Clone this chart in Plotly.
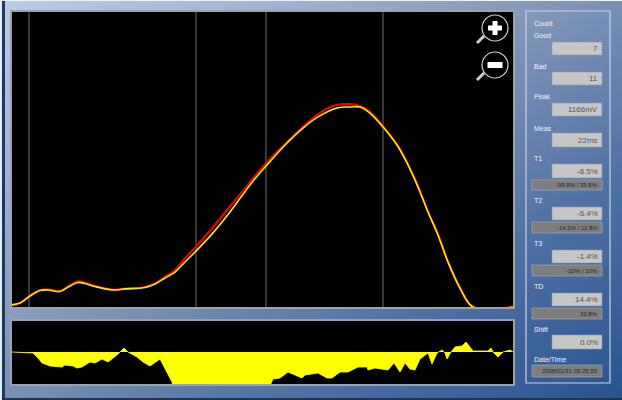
import base64
import plotly.graph_objects as go

# Main trace data: sample index / mV
red_t = [0, 8, 18, 28, 36, 48, 58, 66, 73, 83, 101, 113, 133, 143, 153, 163, 173, 183, 201, 225, 255, 275, 305, 321, 338, 348, 358, 371, 385, 395, 406, 416, 426, 436, 448, 461, 501]
red_mv = [12, 23, 66, 98, 102, 93, 127, 147, 141, 122, 100, 106, 115, 136, 175, 213, 280, 340, 460, 627, 834, 949, 1104, 1156, 1167, 1156, 1122, 1040, 935, 832, 694, 548, 416, 260, 110, 0, 0]
yellow_t = [0, 8, 18, 28, 36, 48, 58, 66, 73, 83, 101, 113, 133, 143, 153, 163, 173, 183, 201, 218, 238, 255, 275, 291, 306, 325, 338, 348, 358, 371, 385, 395, 406, 416, 426, 436, 448, 461, 501]
yellow_mv = [12, 23, 63, 95, 98, 89, 121, 141, 135, 118, 98, 104, 112, 132, 167, 201, 259, 316, 426, 546, 702, 817, 943, 1029, 1093, 1144, 1150, 1150, 1115, 1035, 931, 828, 690, 546, 414, 259, 109, 0, 0]
marker_t = [17, 184, 254, 371]

# Lower difference strip
diff_t = [0, 21, 26, 30, 38, 50, 53, 61, 65, 70, 78, 83, 90, 96, 105, 112, 116, 125, 131, 138, 148, 153, 160, 161, 257, 261, 268, 276, 285, 290, 293, 306, 315, 320, 328, 336, 346, 355, 356, 363, 376, 382, 388, 393, 398, 403, 408, 414, 416, 420, 425, 430, 433, 435, 439, 443, 450, 454, 461, 476, 479, 481, 486, 491, 498, 501]
diff_pct = [0, -1, -6, -11, -14, -15, -13, -14, -16, -15, -10, -11, -7, -10, -3, 4, 0, -5, -10, -14, -7, -16, -30, -36, -36, -27, -26, -20, -24, -26, -23, -21, -26, -26, -20, -20, -15, -15, -18, -16, -18, -11, -20, -11, -17, -18, -7, -3, -1, -12, -1, 2, -1, -7, 0, 5, 6, 10, 1, 1, 4, 0, -5, 0, 2, 0]

# Read-out panel text
panel_labels = ["Count", "Good", "Bad", "Peak", "Meas", "T1", "T2", "T3", "TD", "Shift", "Date/Time"]
panel_values = ["7", "11", "1166mV", "22ms", "-6.5%", "-6.4%", "-1.4%", "14.4%", "0.0%"]
panel_subs = ["-99.8% / 35.8%", "-14.3% / 11.8%", "-10% / 10%", "33.8%", "2008/01/31 05:25:55"]

W, H = 622, 400
label_y = [23, 36, 66, 97, 128, 158, 201, 243, 286, 329, 359]
value_y = [(42, 55), (72, 85), (103, 116), (133, 147), (164, 178), (207, 220), (250, 263), (293, 306), (335, 349)]
sub_y = [(180, 190), (222, 233), (265, 276), (308, 319), (365, 377)]


def px(x):
    return x / W


def py(y):
    return 1 - y / H


def rect(x0, y0, x1, y1, fill="rgba(0,0,0,0)", line=None, lw=1, layer="above"):
    return dict(type="rect", xref="paper", yref="paper", x0=px(x0), x1=px(x1), y0=py(y0), y1=py(y1),
                fillcolor=fill, line=dict(color=line or "rgba(0,0,0,0)", width=lw if line else 0), layer=layer)


svg = f'''<svg xmlns="http://www.w3.org/2000/svg" width="{W}" height="{H}">
<defs><linearGradient id="g" x1="0" y1="0" x2="1" y2="1">
<stop offset="0" stop-color="#bccde8"/><stop offset="0.4" stop-color="#8a9dbd"/>
<stop offset="0.72" stop-color="#4f72a3"/><stop offset="1" stop-color="#2a5390"/></linearGradient></defs>
<rect width="{W}" height="{H}" fill="url(#g)"/></svg>'''
bg = "data:image/svg+xml;base64," + base64.b64encode(svg.encode()).decode()

fig = go.Figure()
for t in marker_t:
    fig.add_trace(go.Scatter(x=[t, t], y=[0, 1711], mode="lines", line=dict(color="#555555", width=1.3),
                             hoverinfo="skip", showlegend=False, xaxis="x", yaxis="y"))
fig.add_trace(go.Scatter(x=red_t, y=red_mv, mode="lines", line=dict(color="#e80000", width=2.2, shape="spline"),
                         name="Reference", showlegend=False))
fig.add_trace(go.Scatter(x=yellow_t, y=yellow_mv, mode="lines", line=dict(color="#f2f000", width=1.6, shape="spline"),
                         name="Measured", showlegend=False))
fig.add_trace(go.Scatter(x=diff_t, y=diff_pct, mode="lines", fill="tozeroy", fillcolor="#ffff00",
                         line=dict(color="#ffff00", width=0.8), xaxis="x2", yaxis="y2", showlegend=False))

axis = dict(showgrid=False, zeroline=False, showticklabels=False, ticks="", showline=True,
            linecolor="#9aa3b3", linewidth=1.5, mirror=True)
shapes = [rect(12, 12, 513, 307, "#000000", layer="below"), rect(12, 321, 513, 384, "#000000", layer="below")]
shapes.append(rect(0, 0, 622, 1, "#eef3fa"))
shapes.append(rect(0, 0, 2, 400, "#e6ecf5"))
shapes.append(rect(2, 1, 5, 398, "#1d3a5e"))
shapes.append(rect(2, 398, 622, 400, "#1c3550"))
shapes.append(rect(526, 11, 610, 383, line="#c8d3e4", lw=1.2))
for y0, y1 in value_y:
    shapes.append(rect(552, y0, 602, y1, "#c6c6c6", "#8e99aa", 0.6))
for y0, y1 in sub_y:
    shapes.append(rect(532, y0, 602, y1, "#7d7d7d", "#a8b0bd", 0.6))

# Zoom glyphs
for cy in (28, 65):
    shapes.append(dict(type="circle", xref="paper", yref="paper", x0=px(482), x1=px(508), y0=py(cy - 13), y1=py(cy + 13),
                       line=dict(color="#cfcfcf", width=1.2), fillcolor="#000000", layer="above"))
    shapes.append(dict(type="line", xref="paper", yref="paper", x0=px(484), x1=px(477), y0=py(cy + 8), y1=py(cy + 15),
                       line=dict(color="#cfcfcf", width=3), layer="above"))
shapes.append(rect(488, 25.5, 502, 30.5, "#ffffff"))
shapes.append(rect(492.5, 21, 497.5, 35, "#ffffff"))
shapes.append(rect(487.5, 62, 502.5, 68, "#ffffff"))

ann = []
for s, y in zip(panel_labels, label_y):
    ann.append(dict(text=s, x=px(532), y=py(y), xref="paper", yref="paper", xanchor="left", yanchor="middle",
                    showarrow=False, font=dict(family="Liberation Sans", size=7, color="#f2f5fa")))
for s, (y0, y1) in zip(panel_values, value_y):
    ann.append(dict(text=s, x=px(600), y=py((y0 + y1) / 2), xref="paper", yref="paper", xanchor="right", yanchor="middle",
                    showarrow=False, font=dict(family="Liberation Sans", size=8, color="#555555")))
for s, (y0, y1) in zip(panel_subs, sub_y):
    ann.append(dict(text=s, x=px(600), y=py((y0 + y1) / 2), xref="paper", yref="paper", xanchor="right", yanchor="middle",
                    showarrow=False, font=dict(family="Liberation Sans", size=6, color="#262626")))

fig.update_layout(
    width=W, height=H, margin=dict(l=0, r=0, t=0, b=0), autosize=False,
    paper_bgcolor="#8297b8", plot_bgcolor="rgba(0,0,0,0)", showlegend=False,
    xaxis=dict(axis, domain=[px(12), px(513)], range=[0, 501], anchor="y"),
    yaxis=dict(axis, domain=[py(307), py(12)], range=[0, 1696], anchor="x"),
    xaxis2=dict(axis, domain=[px(12), px(513)], range=[0, 501], anchor="y2"),
    yaxis2=dict(axis, domain=[py(384), py(321)], range=[-32, 31], anchor="x2"),
    images=[dict(source=bg, xref="paper", yref="paper", x=0, y=1, sizex=1, sizey=1, xanchor="left", yanchor="top",
                 sizing="stretch", layer="below")],
    shapes=shapes, annotations=ann,
)
fig.write_html("out.html", config=dict(displayModeBar=False),
               post_script="document.body.style.margin='0';document.body.style.overflow='hidden';")
